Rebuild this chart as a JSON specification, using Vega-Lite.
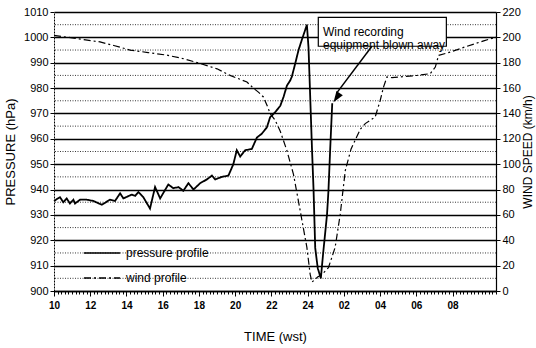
{
  "$schema": "https://vega.github.io/schema/vega-lite/v6.json",
  "width": 442,
  "height": 279,
  "autosize": "none",
  "padding": {"left": 54, "top": 12, "right": 40, "bottom": 57},
  "background": "white",
  "config": {
    "font": "Liberation Sans",
    "view": {"stroke": null},
    "axis": {
      "labelColor": "black", "titleColor": "black", "tickColor": "black", "domainColor": "black",
      "labelFont": "Liberation Sans", "titleFont": "Liberation Sans", "titleFontWeight": "normal"
    }
  },
  "datasets": {
    "levels": [
      {"level": 905}, {"level": 915}, {"level": 925}, {"level": 935}, {"level": 945}, {"level": 955},
      {"level": 965}, {"level": 975}, {"level": 985}, {"level": 995}, {"level": 1005}
    ],
    "pressure": [
      {"t": 10.0, "hPa": 1000.8, "series": "wind profile"},
      {"t": 11.0, "hPa": 999.8, "series": "wind profile"},
      {"t": 12.54, "hPa": 998.2, "series": "wind profile"},
      {"t": 13.3, "hPa": 996.8, "series": "wind profile"},
      {"t": 14.2, "hPa": 995.0, "series": "wind profile"},
      {"t": 15.2, "hPa": 994.0, "series": "wind profile"},
      {"t": 16.23, "hPa": 993.0, "series": "wind profile"},
      {"t": 17.2, "hPa": 991.5, "series": "wind profile"},
      {"t": 18.07, "hPa": 989.7, "series": "wind profile"},
      {"t": 19.0, "hPa": 987.6, "series": "wind profile"},
      {"t": 19.72, "hPa": 985.0, "series": "wind profile"},
      {"t": 20.65, "hPa": 982.4, "series": "wind profile"},
      {"t": 21.0, "hPa": 980.0, "series": "wind profile"},
      {"t": 21.3, "hPa": 978.3, "series": "wind profile"},
      {"t": 21.56, "hPa": 976.5, "series": "wind profile"},
      {"t": 21.8, "hPa": 972.5, "series": "wind profile"},
      {"t": 21.93, "hPa": 970.0, "series": "wind profile"},
      {"t": 22.21, "hPa": 967.3, "series": "wind profile"},
      {"t": 22.49, "hPa": 963.0, "series": "wind profile"},
      {"t": 22.86, "hPa": 955.3, "series": "wind profile"},
      {"t": 23.22, "hPa": 946.0, "series": "wind profile"},
      {"t": 23.59, "hPa": 931.7, "series": "wind profile"},
      {"t": 23.96, "hPa": 917.2, "series": "wind profile"},
      {"t": 24.14, "hPa": 906.6, "series": "wind profile"},
      {"t": 24.24, "hPa": 903.5, "series": "wind profile"},
      {"t": 24.4, "hPa": 904.5, "series": "wind profile"},
      {"t": 24.55, "hPa": 905.5, "series": "wind profile"},
      {"t": 24.79, "hPa": 906.5, "series": "wind profile"},
      {"t": 25.15, "hPa": 909.2, "series": "wind profile"},
      {"t": 25.52, "hPa": 917.2, "series": "wind profile"},
      {"t": 25.8, "hPa": 930.2, "series": "wind profile"},
      {"t": 26.08, "hPa": 947.5, "series": "wind profile"},
      {"t": 26.4, "hPa": 956.0, "series": "wind profile"},
      {"t": 26.91, "hPa": 963.8, "series": "wind profile"},
      {"t": 27.18, "hPa": 966.0, "series": "wind profile"},
      {"t": 27.73, "hPa": 968.6, "series": "wind profile"},
      {"t": 28.01, "hPa": 975.2, "series": "wind profile"},
      {"t": 28.19, "hPa": 980.4, "series": "wind profile"},
      {"t": 28.38, "hPa": 984.4, "series": "wind profile"},
      {"t": 28.66, "hPa": 984.1, "series": "wind profile"},
      {"t": 30.04, "hPa": 985.0, "series": "wind profile"},
      {"t": 30.77, "hPa": 985.7, "series": "wind profile"},
      {"t": 31.05, "hPa": 988.3, "series": "wind profile"},
      {"t": 31.23, "hPa": 992.9, "series": "wind profile"},
      {"t": 31.88, "hPa": 994.2, "series": "wind profile"},
      {"t": 32.8, "hPa": 996.5, "series": "wind profile"},
      {"t": 33.72, "hPa": 998.6, "series": "wind profile"},
      {"t": 34.4, "hPa": 1000.1, "series": "wind profile"}
    ],
    "wind": [
      {"t": 10.0, "kmh": 71, "series": "pressure profile"},
      {"t": 10.33, "kmh": 74, "series": "pressure profile"},
      {"t": 10.51, "kmh": 70, "series": "pressure profile"},
      {"t": 10.7, "kmh": 73, "series": "pressure profile"},
      {"t": 10.88, "kmh": 69, "series": "pressure profile"},
      {"t": 11.07, "kmh": 72, "series": "pressure profile"},
      {"t": 11.16, "kmh": 69, "series": "pressure profile"},
      {"t": 11.44, "kmh": 72, "series": "pressure profile"},
      {"t": 11.81, "kmh": 72, "series": "pressure profile"},
      {"t": 12.17, "kmh": 71, "series": "pressure profile"},
      {"t": 12.64, "kmh": 68, "series": "pressure profile"},
      {"t": 13.09, "kmh": 72, "series": "pressure profile"},
      {"t": 13.37, "kmh": 71, "series": "pressure profile"},
      {"t": 13.65, "kmh": 77, "series": "pressure profile"},
      {"t": 13.83, "kmh": 73, "series": "pressure profile"},
      {"t": 14.29, "kmh": 76, "series": "pressure profile"},
      {"t": 14.48, "kmh": 75, "series": "pressure profile"},
      {"t": 14.66, "kmh": 78, "series": "pressure profile"},
      {"t": 14.93, "kmh": 74, "series": "pressure profile"},
      {"t": 15.3, "kmh": 65, "series": "pressure profile"},
      {"t": 15.58, "kmh": 82, "series": "pressure profile"},
      {"t": 15.86, "kmh": 73, "series": "pressure profile"},
      {"t": 16.31, "kmh": 84, "series": "pressure profile"},
      {"t": 16.59, "kmh": 81, "series": "pressure profile"},
      {"t": 16.87, "kmh": 82, "series": "pressure profile"},
      {"t": 17.14, "kmh": 79, "series": "pressure profile"},
      {"t": 17.42, "kmh": 85, "series": "pressure profile"},
      {"t": 17.7, "kmh": 80, "series": "pressure profile"},
      {"t": 18.07, "kmh": 85, "series": "pressure profile"},
      {"t": 18.44, "kmh": 88, "series": "pressure profile"},
      {"t": 18.72, "kmh": 91, "series": "pressure profile"},
      {"t": 18.9, "kmh": 88, "series": "pressure profile"},
      {"t": 19.27, "kmh": 90, "series": "pressure profile"},
      {"t": 19.63, "kmh": 91, "series": "pressure profile"},
      {"t": 19.9, "kmh": 100, "series": "pressure profile"},
      {"t": 20.09, "kmh": 111, "series": "pressure profile"},
      {"t": 20.28, "kmh": 106, "series": "pressure profile"},
      {"t": 20.55, "kmh": 111, "series": "pressure profile"},
      {"t": 20.92, "kmh": 112, "series": "pressure profile"},
      {"t": 21.2, "kmh": 121, "series": "pressure profile"},
      {"t": 21.47, "kmh": 124, "series": "pressure profile"},
      {"t": 21.75, "kmh": 129, "series": "pressure profile"},
      {"t": 21.93, "kmh": 137, "series": "pressure profile"},
      {"t": 22.21, "kmh": 141, "series": "pressure profile"},
      {"t": 22.49, "kmh": 146, "series": "pressure profile"},
      {"t": 22.67, "kmh": 153, "series": "pressure profile"},
      {"t": 22.86, "kmh": 162, "series": "pressure profile"},
      {"t": 23.04, "kmh": 166, "series": "pressure profile"},
      {"t": 23.13, "kmh": 169, "series": "pressure profile"},
      {"t": 23.31, "kmh": 179, "series": "pressure profile"},
      {"t": 23.5, "kmh": 190, "series": "pressure profile"},
      {"t": 23.68, "kmh": 198, "series": "pressure profile"},
      {"t": 23.87, "kmh": 206, "series": "pressure profile"},
      {"t": 23.96, "kmh": 210, "series": "pressure profile"},
      {"t": 24.05, "kmh": 192, "series": "pressure profile"},
      {"t": 24.24, "kmh": 113, "series": "pressure profile"},
      {"t": 24.33, "kmh": 79, "series": "pressure profile"},
      {"t": 24.42, "kmh": 34, "series": "pressure profile"},
      {"t": 24.56, "kmh": 18, "series": "pressure profile"},
      {"t": 24.73, "kmh": 10, "series": "pressure profile"},
      {"t": 24.86, "kmh": 30, "series": "pressure profile"},
      {"t": 25.07, "kmh": 60, "series": "pressure profile"},
      {"t": 25.15, "kmh": 79, "series": "pressure profile"},
      {"t": 25.25, "kmh": 113, "series": "pressure profile"},
      {"t": 25.36, "kmh": 148, "series": "pressure profile"}
    ]
  },
  "layer": [
    {
      "layer": [
        {
          "data": {"name": "levels"},
          "mark": {"type": "rule", "color": "#222", "strokeDash": [1, 1.5], "strokeWidth": 0.9},
          "encoding": {
            "y": {
              "field": "level", "type": "quantitative",
              "scale": {"domain": [900, 1010], "nice": false, "zero": false},
              "axis": {
                "values": [900, 910, 920, 930, 940, 950, 960, 970, 980, 990, 1000, 1010],
                "format": "d", "labelOverlap": false, "labelFlush": false,
                "grid": true, "gridColor": "black", "gridWidth": 1.3,
                "tickSize": 4, "labelPadding": 2, "labelFontSize": 11,
                "domainDash": [2, 1], "domainWidth": 1,
                "title": "PRESSURE  (hPa)", "titleFontSize": 13, "titlePadding": 6
              }
            }
          }
        },
        {
          "data": {"name": "pressure"},
          "mark": {"type": "line", "color": "black", "strokeWidth": 1.2},
          "encoding": {
            "x": {
              "field": "t", "type": "quantitative",
              "scale": {"domain": [10, 34.4], "nice": false, "zero": false},
              "axis": {
                "orient": "bottom",
                "values": [10, 12, 14, 16, 18, 20, 22, 24, 26, 28, 30, 32],
                "labelExpr": "datum.value == 24 ? '24' : (datum.value % 24 < 10 ? '0' + (datum.value % 24) : '' + (datum.value % 24))",
                "labelFlush": false,
                "labelFontSize": 10, "labelFontWeight": "bold",
                "tickSize": 5, "labelPadding": 4,
                "grid": false, "domainWidth": 1.5,
                "title": "TIME  (wst)", "titleFontSize": 13, "titlePadding": 20
              }
            },
            "y": {
              "field": "hPa", "type": "quantitative",
              "scale": {"domain": [900, 1010], "nice": false, "zero": false},
              "axis": {
                "values": [900, 910, 920, 930, 940, 950, 960, 970, 980, 990, 1000, 1010],
                "format": "d", "labelOverlap": false, "labelFlush": false,
                "grid": true, "gridColor": "black", "gridWidth": 1.3,
                "tickSize": 4, "labelPadding": 2, "labelFontSize": 11,
                "domainDash": [2, 1], "domainWidth": 1,
                "title": "PRESSURE  (hPa)", "titleFontSize": 13, "titlePadding": 6
              }
            },
            "strokeDash": {
              "field": "series", "type": "nominal",
              "scale": {"domain": ["pressure profile", "wind profile"], "range": [[1, 0], [7, 3, 2, 3]]},
              "legend": {
                "orient": "none", "legendX": 41, "legendY": 234, "title": null,
                "symbolType": "M-3,0H3", "symbolSize": 144, "symbolStrokeWidth": 1.5,
                "symbolStrokeColor": "black", "labelFontSize": 12, "labelOffset": 17,
                "rowPadding": 12, "padding": 0, "labelFont": "Liberation Sans", "labelColor": "black"
              }
            }
          }
        }
      ]
    },
    {
      "layer": [
        {
          "data": {"name": "wind"},
          "mark": {"type": "line", "color": "black", "strokeWidth": 1.8},
          "encoding": {
            "x": {
              "field": "t", "type": "quantitative",
              "scale": {"domain": [10, 34.4], "nice": false, "zero": false},
              "axis": {"orient": "bottom", "tickCount": 122, "labels": false, "domain": false, "grid": false, "tickSize": 3, "title": null}
            },
            "y": {
              "field": "kmh", "type": "quantitative",
              "scale": {"domain": [0, 220], "nice": false, "zero": false},
              "axis": {
                "orient": "right",
                "values": [0, 20, 40, 60, 80, 100, 120, 140, 160, 180, 200, 220],
                "labelOverlap": false, "labelFlush": false,
                "grid": false, "tickSize": 4, "labelPadding": 2, "labelFontSize": 11,
                "domainWidth": 1.2,
                "title": "WIND SPEED  (km/h)", "titleAngle": 270, "titleBaseline": "top", "titleFontSize": 12, "titlePadding": 2
              }
            },
            "strokeDash": {
              "field": "series", "type": "nominal",
              "scale": {"domain": ["pressure profile", "wind profile"], "range": [[1, 0], [7, 3, 2, 3]]}
            }
          }
        },
        {
          "data": {"values": [{}]},
          "mark": {"type": "rect", "fill": "white", "stroke": "black", "strokeWidth": 1.2},
          "encoding": {
            "x": {"datum": 24.59, "type": "quantitative",
              "axis": {"orient": "bottom", "tickCount": 122, "labels": false, "domain": false, "grid": false, "tickSize": 3, "title": null}},
            "x2": {"datum": 31.66},
            "y": {
              "datum": 215.8, "type": "quantitative",
              "axis": {
                "orient": "right",
                "values": [0, 20, 40, 60, 80, 100, 120, 140, 160, 180, 200, 220],
                "labelOverlap": false, "labelFlush": false,
                "grid": false, "tickSize": 4, "labelPadding": 2, "labelFontSize": 11,
                "domainWidth": 1.2,
                "title": "WIND SPEED  (km/h)", "titleAngle": 270, "titleBaseline": "top", "titleFontSize": 12, "titlePadding": 2
              }
            },
            "y2": {"datum": 193}
          }
        },
        {
          "data": {"values": [{}]},
          "mark": {"type": "text", "align": "left", "baseline": "middle", "fontSize": 12, "lineHeight": 13, "color": "black", "font": "Liberation Sans"},
          "encoding": {
            "x": {"datum": 24.85, "type": "quantitative",
              "axis": {"orient": "bottom", "tickCount": 122, "labels": false, "domain": false, "grid": false, "tickSize": 3, "title": null}},
            "y": {
              "datum": 204.4, "type": "quantitative",
              "axis": {
                "orient": "right",
                "values": [0, 20, 40, 60, 80, 100, 120, 140, 160, 180, 200, 220],
                "labelOverlap": false, "labelFlush": false,
                "grid": false, "tickSize": 4, "labelPadding": 2, "labelFontSize": 11,
                "domainWidth": 1.2,
                "title": "WIND SPEED  (km/h)", "titleAngle": 270, "titleBaseline": "top", "titleFontSize": 12, "titlePadding": 2
              }
            },
            "text": {"value": ["Wind recording", "equipment blown away"]}
          }
        },
        {
          "data": {"values": [{}]},
          "mark": {"type": "rule", "color": "black", "strokeWidth": 1.5},
          "encoding": {
            "x": {"datum": 27.55, "type": "quantitative",
              "axis": {"orient": "bottom", "tickCount": 122, "labels": false, "domain": false, "grid": false, "tickSize": 3, "title": null}},
            "y": {
              "datum": 193, "type": "quantitative",
              "axis": {
                "orient": "right",
                "values": [0, 20, 40, 60, 80, 100, 120, 140, 160, 180, 200, 220],
                "labelOverlap": false, "labelFlush": false,
                "grid": false, "tickSize": 4, "labelPadding": 2, "labelFontSize": 11,
                "domainWidth": 1.2,
                "title": "WIND SPEED  (km/h)", "titleAngle": 270, "titleBaseline": "top", "titleFontSize": 12, "titlePadding": 2
              }
            },
            "x2": {"datum": 25.6},
            "y2": {"datum": 156}
          }
        },
        {
          "data": {"values": [{}]},
          "mark": {"type": "point", "shape": "M0,0L-0.35,-1L0.35,-1Z", "size": 484, "angle": 34, "filled": true, "color": "black", "opacity": 1},
          "encoding": {
            "x": {"datum": 25.43, "type": "quantitative",
              "axis": {"orient": "bottom", "tickCount": 122, "labels": false, "domain": false, "grid": false, "tickSize": 3, "title": null}},
            "y": {
              "datum": 148.8, "type": "quantitative",
              "axis": {
                "orient": "right",
                "values": [0, 20, 40, 60, 80, 100, 120, 140, 160, 180, 200, 220],
                "labelOverlap": false, "labelFlush": false,
                "grid": false, "tickSize": 4, "labelPadding": 2, "labelFontSize": 11,
                "domainWidth": 1.2,
                "title": "WIND SPEED  (km/h)", "titleAngle": 270, "titleBaseline": "top", "titleFontSize": 12, "titlePadding": 2
              }
            }
          }
        }
      ]
    }
  ],
  "resolve": {"scale": {"y": "independent"}, "axis": {"x": "independent"}}
}
